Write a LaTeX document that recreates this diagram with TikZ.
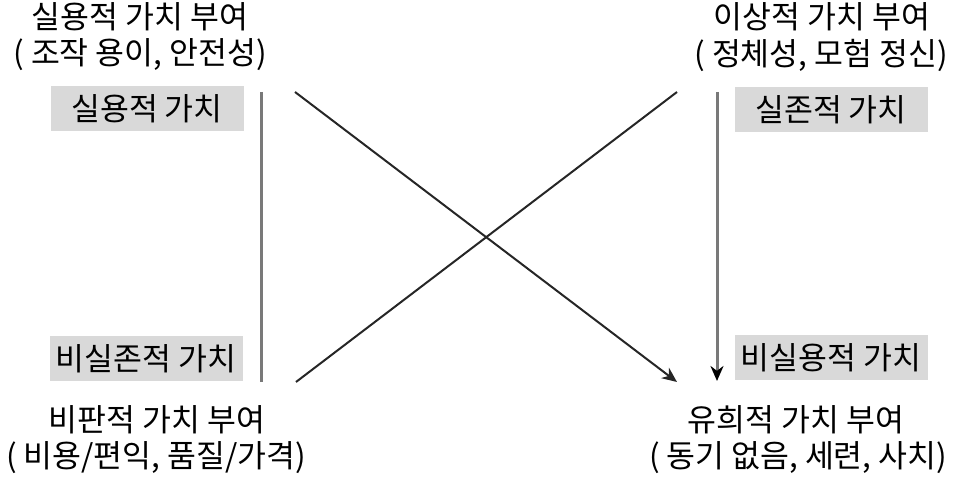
\documentclass[tikz,border=0pt]{standalone}
\usepackage{fontspec}
\setmainfont{Noto Sans CJK KR}
\usetikzlibrary{arrows.meta}

\tikzset{
    valuebox/.style={fill=gray!30, minimum width=96.5pt, minimum height=22.5pt, inner sep=0pt, font=\fontsize{15.7}{18}\selectfont},
    caption/.style={inner sep=0pt, font=\fontsize{15.7}{18}\selectfont},
    axisline/.style={draw=gray!95!black, line width=1.5pt},
    crossline/.style={draw=black!85, line width=1pt}
}

\begin{document}
\begin{tikzpicture}[x=0.5pt, y=-0.5pt]
    \useasboundingbox (0,0) rectangle (960,480);

    % top left
    \node[caption] (tltitle) at (140,17) {실용적 가치 부여};
    \node[caption] (tlsub) at (140,55) {( 조작 용이, 안전성)};
    \node[valuebox] (tlbox) at (147,109) {실용적 가치};

    % top right
    \node[caption] (trtitle) at (822,17) {이상적 가치 부여};
    \node[caption] (trsub) at (821,55) {( 정체성, 모험 정신)};
    \node[valuebox] (trbox) at (831,110) {실존적 가치};

    % bottom left
    \node[valuebox] (blbox) at (146,359) {비실존적 가치};
    \node[caption] (bltitle) at (157,420) {비판적 가치 부여};
    \node[caption] (blsub) at (156,458) {( 비용/편익, 품질/가격)};

    % bottom right
    \node[valuebox] (brbox) at (831,358) {비실용적 가치};
    \node[caption] (brtitle) at (796,420) {유희적 가치 부여};
    \node[caption] (brsub) at (798,458) {( 동기 없음, 세련, 사치)};

    % line ends
    \coordinate (lt) at (261,92);
    \coordinate (lb) at (261,382);
    \coordinate (dl1) at (295,92);
    \coordinate (dr1) at (677,382);
    \coordinate (dl2) at (296,382);
    \coordinate (dr2) at (677,92);
    \coordinate (rt) at (717,92);
    \coordinate (rb) at (717,381);

    \draw[axisline] (lt) -- (lb);
    \draw[crossline, -{Stealth[length=7.5pt, width=6.5pt]}] (dl1) -- (dr1);
    \draw[crossline] (dl2) -- (dr2);
    \draw[axisline, -{Stealth[length=7.5pt, width=6.5pt, black]}] (rt) -- (rb);
\end{tikzpicture}
\end{document}
